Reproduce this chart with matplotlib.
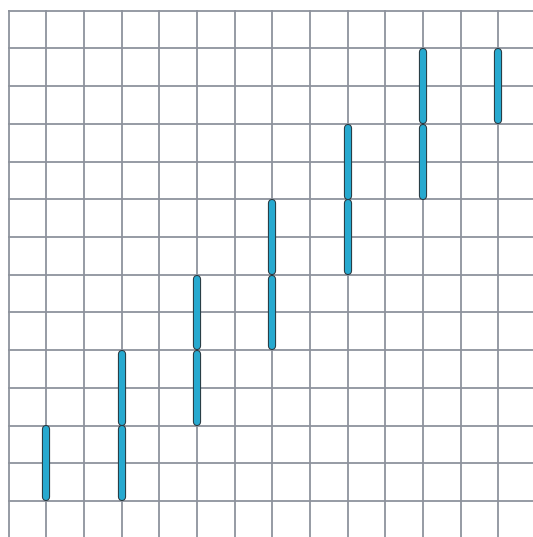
import matplotlib
matplotlib.use("Agg")
import matplotlib.pyplot as plt

# Segment data: x position, low value, high value
seg_x = [1, 3, 3, 5, 5, 7, 7, 9, 9, 11, 11, 13]
seg_low = [0, 0, 2, 2, 4, 4, 6, 6, 8, 8, 10, 10]
seg_high = [2, 2, 4, 4, 6, 6, 8, 8, 10, 10, 12, 12]

W, H = 533, 537
fig = plt.figure(figsize=(W / 100, H / 100), dpi=100)
unit_x = 37.72
unit_y = 37.77
left = 8 / W
width = 14 * unit_x / W
top = 1 - 10 / H
height = 14 * unit_y / H
ax = fig.add_axes([left, top - height, width, height])
ax.set_xlim(-0.02, 14)
ax.set_ylim(-1, 13.02)
ax.set_xticks(range(0, 14))
ax.set_yticks(range(0, 14))
ax.grid(True, color="#8d939d", linewidth=1.3)
ax.tick_params(length=0, labelbottom=False, labelleft=False)
for s in ax.spines.values():
    s.set_visible(False)
ax.set_axisbelow(True)

inset = 0.1
for x, lo, hi in zip(seg_x, seg_low, seg_high):
    ax.plot([x, x], [lo + inset, hi - inset], color="#2a3940", linewidth=5.9,
            solid_capstyle="round", zorder=3)
    ax.plot([x, x], [lo + inset, hi - inset], color="#27a9cf", linewidth=4.4,
            solid_capstyle="round", zorder=4)

fig.savefig("out.png", dpi=100)
